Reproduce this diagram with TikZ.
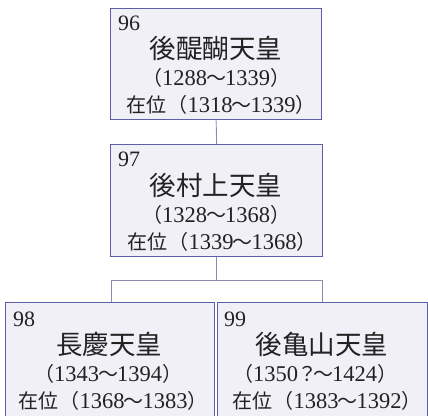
\documentclass[tikz,border=0pt]{standalone}
\usepackage{fontspec}
\setmainfont{Liberation Serif}
\newfontfamily\cjk{Noto Sans CJK JP}
\definecolor{boxfill}{HTML}{F1F0F7}
\definecolor{boxdraw}{HTML}{5E5EA8}
\definecolor{linkcol}{HTML}{8C8CAE}
\definecolor{txt}{HTML}{222222}
\tikzset{
  emp/.style={draw=boxdraw, fill=boxfill, line width=1.3pt, anchor=north west, inner sep=0pt},
  num/.style={anchor=base west, text=txt, font=\fontsize{22}{22}\selectfont, inner sep=0pt},
  ttl/.style={anchor=center, text=txt, font=\cjk\fontsize{26.5}{26.5}\selectfont, inner sep=0pt},
  yrs/.style={anchor=base, text=txt, font=\fontsize{22.5}{22.5}\selectfont, inner sep=0pt},
  link/.style={draw=linkcol, line width=0.9pt}
}
\newcommand{\fw}[1]{{\cjk\fontsize{20}{20}\selectfont #1}}
\newcommand{\opp}{\makebox[8pt][r]{\fw{（}}}
\newcommand{\clp}{\makebox[8pt][l]{\fw{）}}}
\newcommand{\wav}{\makebox[18pt]{\fw{～}}}
\newcommand{\zai}{\fw{在位}\kern13pt}
\begin{document}
\begin{tikzpicture}[x=1pt,y=-1pt]
\useasboundingbox (0,0) rectangle (428,415);
% boxes
\node[emp, minimum width=211pt, minimum height=111pt] (b96) at (110,8) {};
\node[emp, minimum width=212pt, minimum height=112pt] (b97) at (110,144) {};
\node[emp, minimum width=209pt, minimum height=116pt] (b98) at (5,302) {};
\node[emp, minimum width=210pt, minimum height=116pt] (b99) at (217,302) {};
% connectors
\coordinate (jl) at (111,280);
\coordinate (jr) at (322,280);
\draw[link] (b96.south) -- (b97.north);
\draw[link] (b97.south) -- (b97.south |- jl);
\draw[link] (b98.north -| jl) -- (jl) -- (jr) -- (b99.north -| jr);
% texts 96
\node[num] (n96) at (118,30) {96};
\node[ttl] (t96) at (216,48) {後醍醐天皇};
\node[yrs] (y96) at (216,85) {\opp1288\wav1339\clp};
\node[yrs] (r96) at (215,112) {\zai\opp1318\wav1339\clp};
% texts 97
\node[num] (n97) at (118,166) {97};
\node[ttl] (t97) at (216,185) {後村上天皇};
\node[yrs] (y97) at (216,222) {\opp1328\wav1368\clp};
\node[yrs] (r97) at (216,249) {\zai\opp1339\wav1368\clp};
% texts 98
\node[num] (n98) at (13,326) {98};
\node[ttl] (t98) at (109,344) {長慶天皇};
\node[yrs] (y98) at (108,381) {\opp1343\wav1394\clp};
\node[yrs] (r98) at (107,408) {\zai\opp1368\wav1383\clp};
% texts 99
\node[num] (n99) at (224,326) {99};
\node[ttl] (t99) at (322,344) {後亀山天皇};
\node[yrs] (y99) at (315,381) {\opp1350\kern3pt\makebox[13pt]{\fw{？}}\wav1424\clp};
\node[yrs] (r99) at (321,408) {\zai\opp1383\wav1392\clp};
\end{tikzpicture}
\end{document}
